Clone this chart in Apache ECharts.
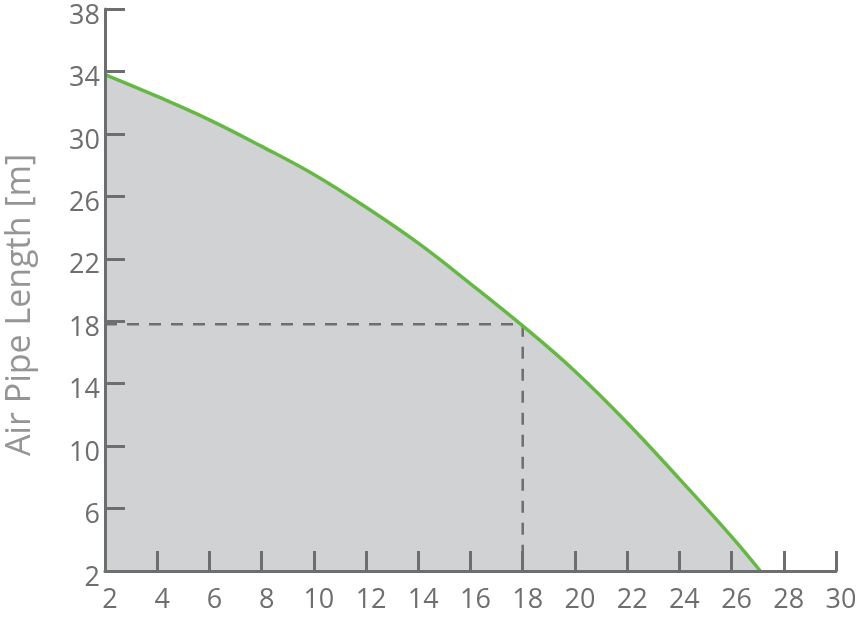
<!DOCTYPE html>
<html>
<head>
<meta charset="utf-8">
<script src="https://cdn.jsdelivr.net/npm/echarts@6/dist/echarts.min.js"></script>
<style>
html,body{margin:0;padding:0;background:#fff;}
#chart{width:861px;height:617px;}
</style>
</head>
<body>
<div id="chart"></div>
<script>
// Data
var flowX = [2, 4, 6, 8, 10, 12, 14, 16, 18, 20, 22, 24, 26, 27.1];
var pipeLength = [33.8, 32.4, 30.9, 29.2, 27.4, 25.3, 23.0, 20.4, 17.7, 14.8, 11.5, 7.9, 4.2, 2];
var markX = [2, 18, 18];
var markY = [17.8, 17.8, 2];
var xTicks = [2, 4, 6, 8, 10, 12, 14, 16, 18, 20, 22, 24, 26, 28, 30];
var yTicks = [2, 6, 10, 14, 18, 22, 26, 30, 34, 38];
var yName = 'Air Pipe Length [m]';

var curve = flowX.map(function (x, i) { return [x, pipeLength[i]]; });
var marker = markX.map(function (x, i) { return [x, markY[i]]; });

var axisColor = '#6d6e70';
var fontFam = '"Open Sans", "DejaVu Sans", sans-serif';

var chart = echarts.init(document.getElementById('chart'), null, {renderer: 'canvas'});
chart.setOption({
  animation: false,
  grid: {left: 105, top: 9, right: 25, bottom: 46, containLabel: false, outerBoundsMode: 'none'},
  xAxis: {
    type: 'value', min: 2, max: 30, z: 10,
    axisLine: {show: true, onZero: false, lineStyle: {color: axisColor, width: 3}},
    axisTick: {show: true, inside: true, length: 20, customValues: xTicks, lineStyle: {color: axisColor, width: 3}},
    axisLabel: {customValues: xTicks, color: axisColor, fontSize: 27, fontFamily: fontFam, margin: 16, padding: [0, 0, 0, 10]},
    splitLine: {show: false}
  },
  yAxis: {
    type: 'value', min: 2, max: 38, z: 10,
    name: yName, nameLocation: 'middle', nameRotate: 90, nameGap: 68,
    nameTextStyle: {color: '#959597', fontSize: 34, fontFamily: fontFam, padding: [0, 0, 0, -30]},
    axisLine: {show: true, onZero: false, lineStyle: {color: axisColor, width: 3}},
    axisTick: {show: true, inside: true, length: 20, customValues: yTicks, lineStyle: {color: axisColor, width: 3}},
    axisLabel: {customValues: yTicks, color: axisColor, fontSize: 27, fontFamily: fontFam, margin: 5,
      verticalAlign: 'top', lineHeight: 14},
    splitLine: {show: false}
  },
  series: [
    {
      type: 'line', data: curve, smooth: 0.4, symbol: 'none', z: 1,
      lineStyle: {width: 0, opacity: 0},
      areaStyle: {color: '#d1d2d4', opacity: 1, origin: 'start'}
    },
    {
      type: 'line', data: marker, symbol: 'none', z: 2,
      lineStyle: {color: axisColor, width: 2.5, type: [12, 10]}
    },
    {
      type: 'line', data: curve, smooth: 0.4, symbol: 'none', z: 3,
      lineStyle: {color: '#66b845', width: 3.5}
    }
  ]
});
</script>
</body>
</html>
